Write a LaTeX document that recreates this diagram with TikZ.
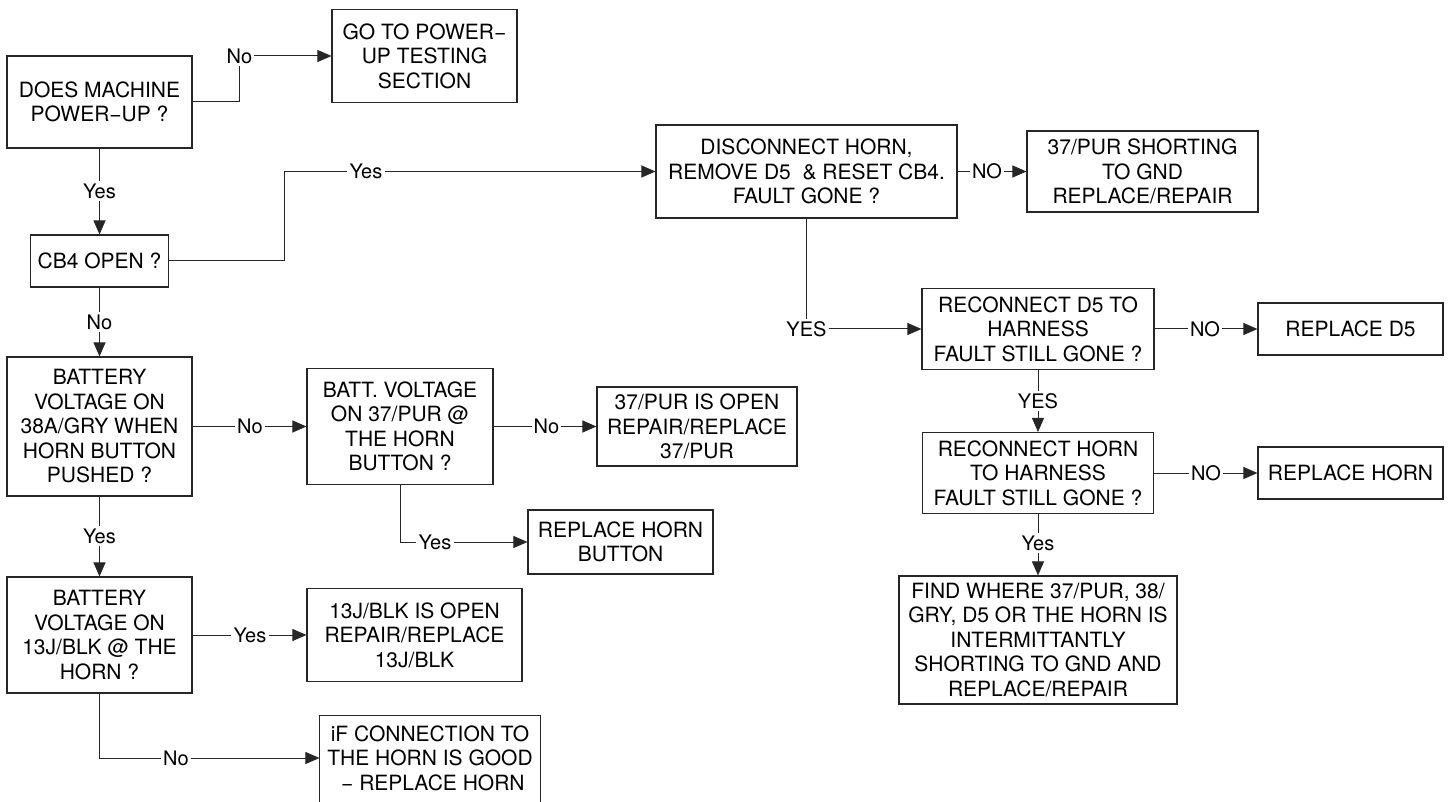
\documentclass[tikz,border=0pt]{standalone}
\usepackage{fontspec}
\setmainfont{TeX Gyre Heros}
\usetikzlibrary{arrows.meta}

\begin{document}
\begin{tikzpicture}[
  x=1pt,
  y=-1pt,
  font=\fontsize{21}{24.5}\selectfont,
  frame/.style={draw=black!85, line width=1.1pt},
  box/.style={frame, align=center, inner sep=0pt},
  lbl/.style={font=\fontsize{20}{24}\selectfont, inner sep=2pt},
  wire/.style={draw=black!85, line width=1pt},
  arr/.style={wire, -{Triangle[length=14pt,width=12pt]}}
]
  \useasboundingbox (0,0) rectangle (1452,802);
  \clip (0,0) rectangle (1452,802);

  % left column
  \node[box, minimum width=185pt, minimum height=92pt] (power) at (99.5,102) {DOES MACHINE\\POWER−UP ?};
  \node[box, minimum width=185pt, minimum height=93pt] (gotest) at (424.5,56) {GO TO POWER−\\UP TESTING\\SECTION};
  \node[box, minimum width=138pt, minimum height=52pt] (cbopen) at (99.5,261) {CB4 OPEN ?};
  \node[box, minimum width=185pt, minimum height=139pt] (battgry) at (99.5,426.5) {BATTERY\\VOLTAGE ON\\38A/GRY WHEN\\HORN BUTTON\\PUSHED ?};
  \node[box, minimum width=186pt, minimum height=116pt] (battpur) at (400,426.5) {BATT. VOLTAGE\\ON 37/PUR @\\THE HORN\\BUTTON ?};
  \node[box, minimum width=200pt, minimum height=79pt] (purop) at (697,426.5) {37/PUR IS OPEN\\REPAIR/REPLACE\\37/PUR};
  \node[box, minimum width=185pt, minimum height=64pt] (repbtn) at (620.5,542) {REPLACE HORN\\BUTTON};
  \node[box, minimum width=185pt, minimum height=116pt] (battblk) at (99.5,635) {BATTERY\\VOLTAGE ON\\13J/BLK @ THE\\HORN ?};
  \node[box, minimum width=215pt, minimum height=93pt] (blkop) at (414.5,635) {13J/BLK IS OPEN\\REPAIR/REPLACE\\13J/BLK};
  \node[box, draw=none, minimum width=220pt, minimum height=84pt] (conn) at (430,758) {iF CONNECTION TO\\THE HORN IS GOOD\\\ − REPLACE HORN};
  \draw[frame] ([yshift=-40pt]conn.south west) |- (conn.north east) -- ([yshift=-40pt]conn.south east);

  % right part
  \node[box, minimum width=301pt, minimum height=93pt] (disc) at (806.5,171.5) {DISCONNECT HORN,\\REMOVE D5\ \ \& RESET CB4.\\FAULT GONE ?};
  \node[box, minimum width=231pt, minimum height=81pt] (shortgnd) at (1142.5,171.5) {37/PUR SHORTING\\TO GND\\REPLACE/REPAIR};
  \node[box, minimum width=232pt, minimum height=81pt] (rcdiode) at (1038,329) {RECONNECT D5 TO\\HARNESS\\FAULT STILL GONE ?};
  \node[box, minimum width=185pt, minimum height=52pt] (repdiode) at (1350.5,329) {REPLACE D5};
  \node[box, minimum width=231pt, minimum height=81pt] (rchorn) at (1038,473) {RECONNECT HORN\\TO HARNESS\\FAULT STILL GONE ?};
  \node[box, minimum width=185pt, minimum height=52pt] (rephorn) at (1350.5,473) {REPLACE HORN};
  \node[box, minimum width=278pt, minimum height=128pt] (findshort) at (1038,640) {FIND WHERE 37/PUR, 38/\\GRY, D5 OR THE HORN IS\\INTERMITTANTLY\\SHORTING TO GND AND\\REPLACE/REPAIR};

  % connector labels
  \node[lbl] (l1) at (239.5,56) {No};
  \node[lbl] (l2) at (99.5,191) {Yes};
  \node[lbl] (l3) at (366,171.5) {Yes};
  \node[lbl] (l4) at (99.5,322) {No};
  \node[lbl] (l5) at (250,426.5) {No};
  \node[lbl] (l6) at (546.5,426.5) {No};
  \node[lbl] (l7) at (435,542) {Yes};
  \node[lbl] (l8) at (99.5,536) {Yes};
  \node[lbl] (l9) at (250,635) {Yes};
  \node[lbl] (l10) at (176,758) {No};
  \node[lbl] (l11) at (987,171.5) {NO};
  \node[lbl] (l12) at (806.5,329) {YES};
  \node[lbl] (l13) at (1205,329) {NO};
  \node[lbl] (l14) at (1038,401) {YES};
  \node[lbl] (l15) at (1206,473) {NO};
  \node[lbl] (l16) at (1038,543) {Yes};
  \coordinate (k1) at (284,171.5);

  % connectors
  \draw[wire] (power.east) -| (l1.south);
  \draw[arr] (l1.east) -- (gotest.west);
  \draw[wire] (power.south) -- (l2.north);
  \draw[arr] (l2.south) -- (cbopen.north);
  \draw[wire] (cbopen.east) -| (k1) -- (l3.west);
  \draw[arr] (l3.east) -- (disc.west);
  \draw[wire] (cbopen.south) -- (l4.north);
  \draw[arr] (l4.south) -- (battgry.north);
  \draw[wire] (battgry.east) -- (l5.west);
  \draw[arr] (l5.east) -- (battpur.west);
  \draw[wire] (battpur.east) -- (l6.west);
  \draw[arr] (l6.east) -- (purop.west);
  \draw[wire] (battpur.south) |- (l7.west);
  \draw[arr] (l7.east) -- (repbtn.west);
  \draw[wire] (battgry.south) -- (l8.north);
  \draw[arr] (l8.south) -- (battblk.north);
  \draw[wire] (battblk.east) -- (l9.west);
  \draw[arr] (l9.east) -- (blkop.west);
  \draw[wire] (battblk.south) |- (l10.west);
  \draw[arr] (l10.east) -- (conn.west);
  \draw[wire] (disc.east) -- (l11.west);
  \draw[arr] (l11.east) -- (shortgnd.west);
  \draw[wire] (disc.south) -- (l12.north);
  \draw[arr] (l12.east) -- (rcdiode.west);
  \draw[wire] (rcdiode.east) -- (l13.west);
  \draw[arr] (l13.east) -- (repdiode.west);
  \draw[wire] (rcdiode.south) -- (l14.north);
  \draw[arr] (l14.south) -- (rchorn.north);
  \draw[wire] (rchorn.east) -- (l15.west);
  \draw[arr] (l15.east) -- (rephorn.west);
  \draw[wire] (rchorn.south) -- (l16.north);
  \draw[arr] (l16.south) -- (findshort.north);
\end{tikzpicture}
\end{document}
